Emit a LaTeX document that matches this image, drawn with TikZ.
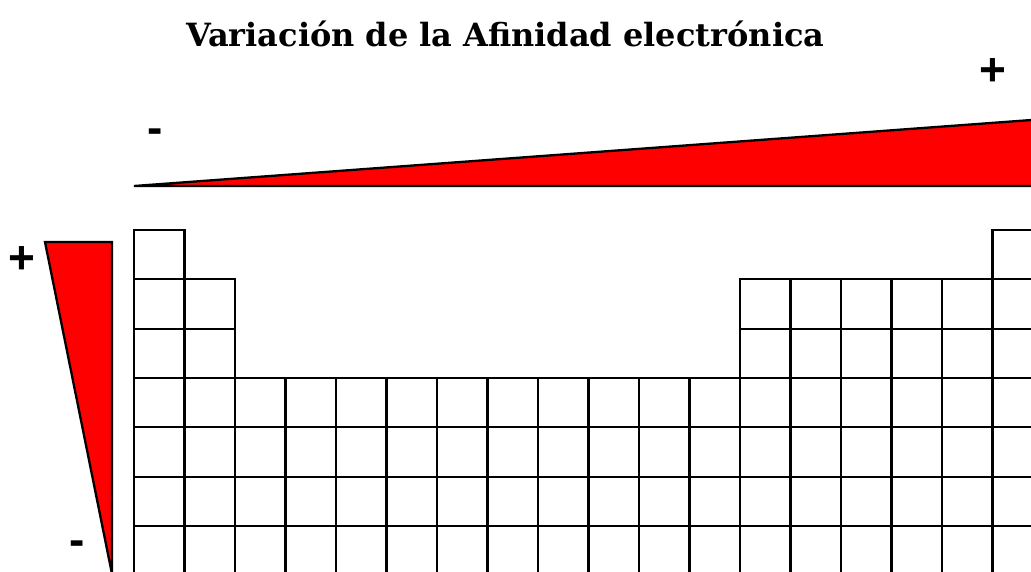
\documentclass[tikz,border=0pt]{standalone}
\usepackage{fontspec}
\setmainfont{DejaVu Serif}
\newfontfamily\signfont{Liberation Sans}
\usetikzlibrary{positioning}
\definecolor{wedgered}{RGB}{255,0,0}

\begin{document}
\begin{tikzpicture}[
  x=1pt,y=-1pt,
  wedge/.style={draw=black,line width=2.3pt,fill=wedgered},
  cell/.style={draw=black,line width=2.3pt},
  sign/.style={font=\signfont\bfseries\fontsize{46}{46}\selectfont,inner sep=0pt},
  heading/.style={font=\bfseries\fontsize{32}{32}\selectfont,inner sep=0pt,anchor=base west}
]
  \clip (0,0) rectangle (1031,571);
  \node[heading] (titulo) at (186,46) {Variación de la Afinidad electrónica};
  \draw[wedge] (134,186) -- (1045,119) -- (1045,186) -- cycle;
  \draw[wedge] (45,242) -- (112,242) -- (112,574) -- cycle;
  \node[sign] (masarriba) at (993,72) {+};
  \node[sign] (menosarriba) at (155,136) {-};
  \node[sign] (masizq) at (22,260) {+};
  \node[sign] (menosizq) at (77,548) {-};
  \foreach \r/\cols in {1/{1,18},2/{1,2,13,14,15,16,17,18},3/{1,2,13,14,15,16,17,18},
      4/{1,...,18},5/{1,...,18},6/{1,...,18},7/{1,...,18}}
    \foreach \c in \cols
      \draw[cell] ({134+50.5*(\c-1)},{230+49.33*(\r-1)}) rectangle ++(50.5,49.33);
\end{tikzpicture}
\end{document}
